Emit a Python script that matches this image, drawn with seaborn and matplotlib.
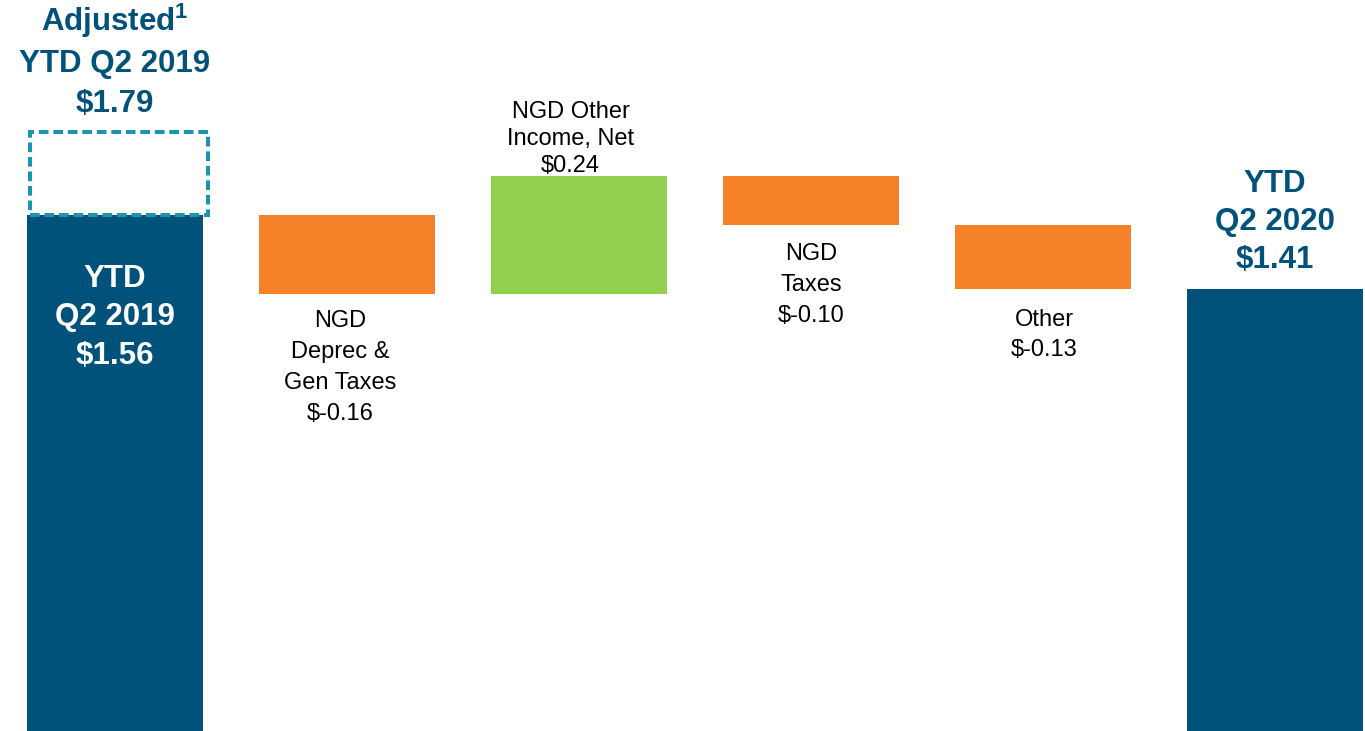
import numpy as np
import pandas as pd
import matplotlib
matplotlib.use("Agg")
import matplotlib.pyplot as plt
import seaborn as sns

# ---- data ----
categories = ["YTD Q2 2019", "NGD Deprec & Gen Taxes", "NGD Other Income, Net",
              "NGD Taxes", "Other", "YTD Q2 2020"]
start_value = 1.56
deltas = [-0.16, 0.24, -0.10, -0.13]
end_value = 1.41
adjusted_value = 1.79
adjusted_box_top = 1.73   # drawn height of the dashed "adjusted" box

labels = ["YTD\nQ2 2019\n$1.56", "NGD\nDeprec &\nGen Taxes\n$-0.16",
          "NGD Other\nIncome, Net\n$0.24", "NGD\nTaxes\n$-0.10",
          "Other\n$-0.13", "YTD\nQ2 2020\n$1.41"]
adjusted_label = "Adjusted$^{\\mathbf{1}}$\nYTD Q2 2019\n\\$1.79"

# ---- waterfall geometry from the data ----
levels = np.concatenate([[start_value], start_value + np.cumsum(deltas)])
bottoms = [0.0]
heights = [start_value]
for i, d in enumerate(deltas):
    lo = min(levels[i], levels[i + 1])
    bottoms.append(lo)
    heights.append(abs(d))
bottoms.append(0.0)
heights.append(end_value)

df = pd.DataFrame({"category": categories, "height": heights})

DARK = "#00527B"
ORANGE = "#F58229"
GREEN = "#92D050"
TEAL = "#1B93B3"
colors = [DARK] + [GREEN if d > 0 else ORANGE for d in deltas] + [DARK]

sns.set_theme(style="white")
plt.rcParams["font.family"] = ["Liberation Sans", "DejaVu Sans"]
plt.rcParams["mathtext.fontset"] = "custom"
plt.rcParams["mathtext.rm"] = "Liberation Sans"
plt.rcParams["mathtext.bf"] = "Liberation Sans:bold"

fig = plt.figure(figsize=(13.65, 7.31), dpi=100)
ax = fig.add_axes([0, 0, 1, 1])

sns.barplot(data=df, x="category", y="height", order=categories, bottom=bottoms,
            width=0.7586, errorbar=None, color=DARK, linewidth=0, ax=ax)
for p, c in zip(ax.patches, colors):
    p.set_facecolor(c)
    p.set_edgecolor(c)

# dashed adjusted box
ax.bar([0.017], [adjusted_box_top - start_value], bottom=[start_value], width=0.767,
       fill=False, edgecolor=TEAL, linewidth=2.9, linestyle=(0, (2.4, 1.2)), zorder=3)

ax.set_xlim(-0.4957, 5.388)
ax.set_ylim(0.506, 2.0)
ax.axis("off")

bold_kw = dict(fontsize=22.5, fontweight="bold", ha="center", multialignment="center")
reg_kw = dict(fontsize=17, ha="center", multialignment="center", color="black")

# adjusted label above dashed box
ax.annotate(adjusted_label, xy=(0, adjusted_box_top), xytext=(0, 9.5),
            textcoords="offset points", va="bottom", color=DARK, linespacing=1.42, **bold_kw)
# inside first bar
ax.annotate(labels[0], xy=(0, start_value), xytext=(0, -73.5), textcoords="offset points",
            va="center", color="white", linespacing=1.36, **bold_kw)
# final bar label above
ax.annotate(labels[5], xy=(5, end_value), xytext=(0, 9.6), textcoords="offset points",
            va="bottom", color=DARK, linespacing=1.36, **bold_kw)

# delta labels
ax.annotate(labels[1], xy=(1, bottoms[1]), xytext=(-5, -12), textcoords="offset points",
            va="top", linespacing=1.52, **reg_kw)
ax.annotate(labels[2], xy=(2, bottoms[2] + heights[2]), xytext=(-6, -0.5), textcoords="offset points",
            va="bottom", linespacing=1.3, **reg_kw)
ax.annotate(labels[3], xy=(3, bottoms[3]), xytext=(0, -13), textcoords="offset points",
            va="top", linespacing=1.52, **reg_kw)
ax.annotate(labels[4], xy=(4, bottoms[4]), xytext=(1, -14.4), textcoords="offset points",
            va="top", linespacing=1.5, **reg_kw)

fig.savefig("out.png", dpi=100, facecolor="white")
